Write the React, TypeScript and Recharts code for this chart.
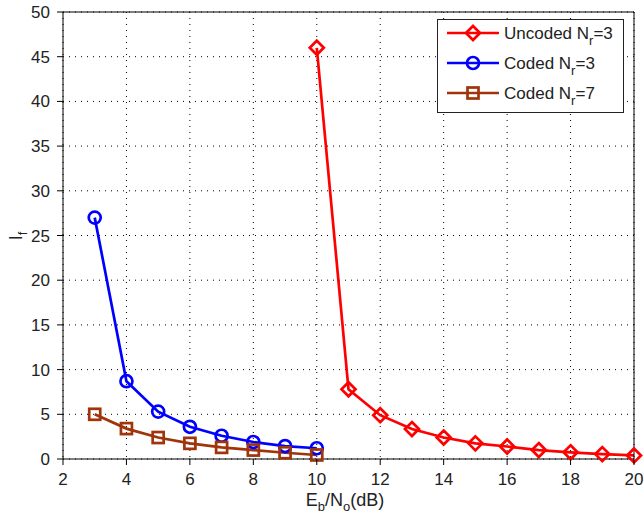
import { LineChart, Line, XAxis, YAxis, CartesianGrid } from "recharts";

const snrUncoded = [10, 11, 12, 13, 14, 15, 16, 17, 18, 19, 20];
const ifUncoded = [46, 7.8, 4.9, 3.35, 2.4, 1.75, 1.4, 1.0, 0.75, 0.55, 0.4];

const snrCoded = [3, 4, 5, 6, 7, 8, 9, 10];
const ifCoded3 = [27, 8.7, 5.3, 3.6, 2.6, 1.9, 1.45, 1.2];
const ifCoded7 = [5.0, 3.4, 2.4, 1.75, 1.3, 1.0, 0.7, 0.45];

const xTicks = [2, 4, 6, 8, 10, 12, 14, 16, 18, 20];
const yTicks = [0, 5, 10, 15, 20, 25, 30, 35, 40, 45, 50];

const RED = "#ff0000";
const BLUE = "#0000ff";
const BROWN = "#a0340a";
const FONT = "'Liberation Sans', Arial, sans-serif";

const uncodedData = snrUncoded.map((x, i) => ({ x, y: ifUncoded[i] }));
const coded3Data = snrCoded.map((x, i) => ({ x, y: ifCoded3[i] }));
const coded7Data = snrCoded.map((x, i) => ({ x, y: ifCoded7[i] }));

function Diamond({ cx, cy, color }: any) {
  if (cx == null || cy == null) return null;
  const r = 7;
  return (
    <path
      d={`M${cx},${cy - r} L${cx + r},${cy} L${cx},${cy + r} L${cx - r},${cy} Z`}
      fill="none"
      stroke={color}
      strokeWidth={2.7}
    />
  );
}

function Circle({ cx, cy, color }: any) {
  if (cx == null || cy == null) return null;
  return <circle cx={cx} cy={cy} r={6} fill="none" stroke={color} strokeWidth={2.7} />;
}

function Square({ cx, cy, color }: any) {
  if (cx == null || cy == null) return null;
  const h = 5.5;
  return <rect x={cx - h} y={cy - h} width={2 * h} height={2 * h} fill="none" stroke={color} strokeWidth={2.7} />;
}

// MATLAB style: tick marks point into the plot, labels outside
function BottomTick({ x, y, payload }: any) {
  return (
    <g>
      <line x1={x} y1={y - 8} x2={x} y2={y - 2} stroke="#000" />
      <text x={x} y={y + 18} textAnchor="middle" fontSize={17} fontFamily={FONT} fill="#222">
        {payload.value}
      </text>
    </g>
  );
}

function LeftTick({ x, y, payload }: any) {
  return (
    <g>
      <line x1={x + 2} y1={y} x2={x + 8} y2={y} stroke="#000" />
      <text x={x - 5} y={y + 6} textAnchor="end" fontSize={17} fontFamily={FONT} fill="#222">
        {payload.value}
      </text>
    </g>
  );
}

function TopTick({ x, y }: any) {
  return <line x1={x} y1={y + 2} x2={x} y2={y + 8} stroke="#000" />;
}

function RightTick({ x, y }: any) {
  return <line x1={x - 2} y1={y} x2={x - 8} y2={y} stroke="#000" />;
}

const legendItems = [
  { label: "Uncoded N", sub: "r", rest: "=3", color: RED, Marker: Diamond },
  { label: "Coded N", sub: "r", rest: "=3", color: BLUE, Marker: Circle },
  { label: "Coded N", sub: "r", rest: "=7", color: BROWN, Marker: Square },
];

function LegendBox({ x, y }: { x: number; y: number }) {
  return (
    <g transform={`translate(${x},${y})`}>
      <rect x={0.5} y={0.5} width={186} height={93} fill="#fff" stroke="#222" />
      {legendItems.map((it, i) => {
        const cy = 14 + i * 30;
        return (
          <g key={i}>
            <line x1={10} y1={cy} x2={62} y2={cy} stroke={it.color} strokeWidth={2.7} />
            <it.Marker cx={36} cy={cy} color={it.color} />
            <text x={67} y={cy + 6} fontSize={17} fontFamily={FONT} fill="#222">
              {it.label}
              <tspan fontSize={13} dy={6}>{it.sub}</tspan>
              <tspan dy={-6}>{it.rest}</tspan>
            </text>
          </g>
        );
      })}
    </g>
  );
}

export default function App() {
  return (
    <div style={{ position: "absolute", left: 0, top: 0, width: 644, height: 518, background: "#fff" }}>
      <LineChart width={644} height={518} margin={{ top: 11, right: 0, left: 0, bottom: 0 }}>
        <CartesianGrid stroke="#000" strokeDasharray="1 5" />
        <XAxis
          type="number"
          dataKey="x"
          domain={[2, 20]}
          ticks={xTicks}
          allowDuplicatedCategory={false}
          height={59}
          stroke="#000"
          tickLine={false}
          tick={<BottomTick />}
          interval={0}
        />
        <XAxis
          xAxisId="top"
          orientation="top"
          type="number"
          dataKey="x"
          domain={[2, 20]}
          ticks={xTicks}
          height={1}
          stroke="#000"
          tickLine={false}
          tick={<TopTick />}
          interval={0}
        />
        <YAxis
          type="number"
          domain={[0, 50]}
          ticks={yTicks}
          width={63}
          stroke="#000"
          tickLine={false}
          tick={<LeftTick />}
          interval={0}
        />
        <YAxis
          yAxisId="right"
          orientation="right"
          type="number"
          domain={[0, 50]}
          ticks={yTicks}
          width={10}
          stroke="#000"
          tickLine={false}
          tick={<RightTick />}
          interval={0}
        />
        <Line
          data={uncodedData}
          dataKey="y"
          stroke={RED}
          strokeWidth={2.7}
          dot={(p: any) => <Diamond key={p.index} cx={p.cx} cy={p.cy} color={RED} />}
          isAnimationActive={false}
        />
        <Line
          data={coded3Data}
          dataKey="y"
          stroke={BLUE}
          strokeWidth={2.7}
          dot={(p: any) => <Circle key={p.index} cx={p.cx} cy={p.cy} color={BLUE} />}
          isAnimationActive={false}
        />
        <Line
          data={coded7Data}
          dataKey="y"
          stroke={BROWN}
          strokeWidth={2.7}
          dot={(p: any) => <Square key={p.index} cx={p.cx} cy={p.cy} color={BROWN} />}
          isAnimationActive={false}
        />
        <LegendBox x={437} y={19} />
        <text x={345} y={506} textAnchor="middle" fontSize={18} fontFamily={FONT} fill="#222">
          E<tspan fontSize={13} dy={5}>b</tspan>
          <tspan dy={-5}>/N</tspan>
          <tspan fontSize={13} dy={5}>o</tspan>
          <tspan dy={-5}>(dB)</tspan>
        </text>
        <text x={0} y={0} transform="translate(22,236) rotate(-90)" textAnchor="middle" fontSize={18} fontFamily={FONT} fill="#222">
          I<tspan fontSize={13} dy={5}>f</tspan>
        </text>
      </LineChart>
    </div>
  );
}
